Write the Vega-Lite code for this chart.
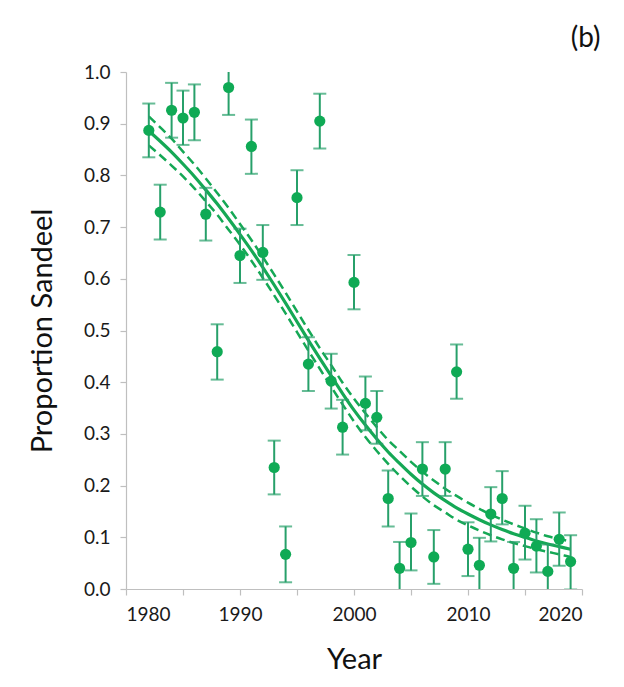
{
  "$schema": "https://vega.github.io/schema/vega-lite/v6.json",
  "autosize": "none",
  "width": 456,
  "height": 517,
  "padding": {"left": 126, "top": 72, "right": 42, "bottom": 98},
  "background": "white",
  "config": {
    "view": {"stroke": null},
    "font": "Lato",
    "axis": {
      "domainColor": "#BFBFBF",
      "tickColor": "#BFBFBF",
      "domainWidth": 1.2,
      "tickWidth": 1.2,
      "tickSize": 6,
      "grid": false,
      "labelFont": "Lato",
      "labelFontSize": 19,
      "labelColor": "#1a1a1a",
      "titleFont": "Lato",
      "titleFontSize": 29,
      "titleFontWeight": "normal",
      "titleColor": "#111111"
    }
  },
  "title": {
    "text": "(b)",
    "anchor": "end",
    "orient": "top",
    "fontSize": 28,
    "fontWeight": "normal",
    "font": "Lato",
    "color": "#111111",
    "dx": 18,
    "offset": 10
  },
  "datasets": {
    "obs": [
      {"year": 1982, "p": 0.887, "lo": 0.835, "hi": 0.939},
      {"year": 1983, "p": 0.729, "lo": 0.676, "hi": 0.782},
      {"year": 1984, "p": 0.926, "lo": 0.873, "hi": 0.979},
      {"year": 1985, "p": 0.911, "lo": 0.859, "hi": 0.964},
      {"year": 1986, "p": 0.922, "lo": 0.868, "hi": 0.976},
      {"year": 1987, "p": 0.725, "lo": 0.674, "hi": 0.776},
      {"year": 1988, "p": 0.459, "lo": 0.405, "hi": 0.512},
      {"year": 1989, "p": 0.970, "lo": 0.917, "hi": 1.022},
      {"year": 1990, "p": 0.645, "lo": 0.592, "hi": 0.697},
      {"year": 1991, "p": 0.856, "lo": 0.803, "hi": 0.908},
      {"year": 1992, "p": 0.651, "lo": 0.598, "hi": 0.704},
      {"year": 1993, "p": 0.235, "lo": 0.183, "hi": 0.287},
      {"year": 1994, "p": 0.067, "lo": 0.013, "hi": 0.121},
      {"year": 1995, "p": 0.757, "lo": 0.704, "hi": 0.810},
      {"year": 1996, "p": 0.435, "lo": 0.383, "hi": 0.487},
      {"year": 1997, "p": 0.905, "lo": 0.852, "hi": 0.958},
      {"year": 1998, "p": 0.402, "lo": 0.349, "hi": 0.455},
      {"year": 1999, "p": 0.313, "lo": 0.260, "hi": 0.366},
      {"year": 2000, "p": 0.593, "lo": 0.541, "hi": 0.646},
      {"year": 2001, "p": 0.359, "lo": 0.307, "hi": 0.411},
      {"year": 2002, "p": 0.332, "lo": 0.281, "hi": 0.383},
      {"year": 2003, "p": 0.175, "lo": 0.121, "hi": 0.229},
      {"year": 2004, "p": 0.040, "lo": -0.012, "hi": 0.091},
      {"year": 2005, "p": 0.090, "lo": 0.036, "hi": 0.146},
      {"year": 2006, "p": 0.232, "lo": 0.180, "hi": 0.284},
      {"year": 2007, "p": 0.062, "lo": 0.010, "hi": 0.114},
      {"year": 2008, "p": 0.232, "lo": 0.180, "hi": 0.284},
      {"year": 2009, "p": 0.420, "lo": 0.368, "hi": 0.473},
      {"year": 2010, "p": 0.077, "lo": 0.025, "hi": 0.129},
      {"year": 2011, "p": 0.046, "lo": -0.006, "hi": 0.099},
      {"year": 2012, "p": 0.145, "lo": 0.092, "hi": 0.197},
      {"year": 2013, "p": 0.175, "lo": 0.125, "hi": 0.228},
      {"year": 2014, "p": 0.040, "lo": -0.012, "hi": 0.091},
      {"year": 2015, "p": 0.108, "lo": 0.057, "hi": 0.161},
      {"year": 2016, "p": 0.083, "lo": 0.032, "hi": 0.135},
      {"year": 2017, "p": 0.034, "lo": -0.018, "hi": 0.086},
      {"year": 2018, "p": 0.096, "lo": 0.045, "hi": 0.148},
      {"year": 2019, "p": 0.053, "lo": -0.001, "hi": 0.104}
    ],
    "fit": [
      {"year": 1982, "fit": 0.886, "lower": 0.858, "upper": 0.914},
      {"year": 1983, "fit": 0.866, "lower": 0.839, "upper": 0.893},
      {"year": 1984, "fit": 0.845, "lower": 0.819, "upper": 0.871},
      {"year": 1985, "fit": 0.822, "lower": 0.798, "upper": 0.846},
      {"year": 1986, "fit": 0.798, "lower": 0.775, "upper": 0.821},
      {"year": 1987, "fit": 0.772, "lower": 0.750, "upper": 0.794},
      {"year": 1988, "fit": 0.745, "lower": 0.724, "upper": 0.766},
      {"year": 1989, "fit": 0.716, "lower": 0.695, "upper": 0.737},
      {"year": 1990, "fit": 0.686, "lower": 0.666, "upper": 0.706},
      {"year": 1991, "fit": 0.655, "lower": 0.635, "upper": 0.675},
      {"year": 1992, "fit": 0.622, "lower": 0.602, "upper": 0.642},
      {"year": 1993, "fit": 0.588, "lower": 0.568, "upper": 0.608},
      {"year": 1994, "fit": 0.553, "lower": 0.533, "upper": 0.573},
      {"year": 1995, "fit": 0.517, "lower": 0.497, "upper": 0.537},
      {"year": 1996, "fit": 0.481, "lower": 0.461, "upper": 0.501},
      {"year": 1997, "fit": 0.446, "lower": 0.426, "upper": 0.466},
      {"year": 1998, "fit": 0.412, "lower": 0.391, "upper": 0.433},
      {"year": 1999, "fit": 0.378, "lower": 0.357, "upper": 0.399},
      {"year": 2000, "fit": 0.346, "lower": 0.324, "upper": 0.368},
      {"year": 2001, "fit": 0.317, "lower": 0.294, "upper": 0.340},
      {"year": 2002, "fit": 0.290, "lower": 0.267, "upper": 0.313},
      {"year": 2003, "fit": 0.265, "lower": 0.242, "upper": 0.288},
      {"year": 2004, "fit": 0.243, "lower": 0.219, "upper": 0.267},
      {"year": 2005, "fit": 0.222, "lower": 0.198, "upper": 0.246},
      {"year": 2006, "fit": 0.203, "lower": 0.179, "upper": 0.227},
      {"year": 2007, "fit": 0.186, "lower": 0.162, "upper": 0.210},
      {"year": 2008, "fit": 0.171, "lower": 0.148, "upper": 0.194},
      {"year": 2009, "fit": 0.157, "lower": 0.134, "upper": 0.180},
      {"year": 2010, "fit": 0.145, "lower": 0.123, "upper": 0.167},
      {"year": 2011, "fit": 0.134, "lower": 0.113, "upper": 0.155},
      {"year": 2012, "fit": 0.124, "lower": 0.104, "upper": 0.144},
      {"year": 2013, "fit": 0.115, "lower": 0.096, "upper": 0.134},
      {"year": 2014, "fit": 0.107, "lower": 0.089, "upper": 0.125},
      {"year": 2015, "fit": 0.100, "lower": 0.083, "upper": 0.117},
      {"year": 2016, "fit": 0.093, "lower": 0.077, "upper": 0.109},
      {"year": 2017, "fit": 0.087, "lower": 0.072, "upper": 0.102},
      {"year": 2018, "fit": 0.082, "lower": 0.067, "upper": 0.097},
      {"year": 2019, "fit": 0.077, "lower": 0.062, "upper": 0.092}
    ]
  },
  "encoding": {
    "x": {
      "field": "year",
      "type": "quantitative",
      "scale": {"domain": [1980, 2020], "nice": false, "zero": false},
      "axis": {
        "title": "Year",
        "values": [1980, 1985, 1990, 1995, 2000, 2005, 2010, 2015, 2020],
        "labelExpr": "datum.value % 10 == 0 ? datum.label : ''",
        "format": "d",
        "labelPadding": 10,
        "titlePadding": 21
      }
    }
  },
  "layer": [
    {
      "data": {"name": "fit"},
      "mark": {"type": "line", "color": "#15A855", "strokeWidth": 2.5, "strokeDash": [9, 5], "interpolate": "monotone"},
      "encoding": {
        "y": {"field": "upper", "type": "quantitative"}
      }
    },
    {
      "data": {"name": "fit"},
      "mark": {"type": "line", "color": "#15A855", "strokeWidth": 2.5, "strokeDash": [9, 5], "interpolate": "monotone"},
      "encoding": {
        "y": {"field": "lower", "type": "quantitative"}
      }
    },
    {
      "data": {"name": "fit"},
      "mark": {"type": "line", "color": "#15A855", "strokeWidth": 3.2, "interpolate": "monotone"},
      "encoding": {
        "y": {"field": "fit", "type": "quantitative"}
      }
    },
    {
      "data": {"name": "obs"},
      "mark": {"type": "rule", "color": "#27A06A", "strokeWidth": 2, "clip": true},
      "encoding": {
        "y": {"field": "lo", "type": "quantitative"},
        "y2": {"field": "hi"}
      }
    },
    {
      "data": {"name": "obs"},
      "mark": {"type": "tick", "orient": "horizontal", "color": "#27A06A", "size": 13, "thickness": 2, "clip": true},
      "encoding": {
        "y": {"field": "lo", "type": "quantitative"}
      }
    },
    {
      "data": {"name": "obs"},
      "mark": {"type": "tick", "orient": "horizontal", "color": "#27A06A", "size": 13, "thickness": 2, "clip": true},
      "encoding": {
        "y": {"field": "hi", "type": "quantitative"}
      }
    },
    {
      "data": {"name": "obs"},
      "mark": {"type": "circle", "color": "#0FAA55", "opacity": 1, "size": 125},
      "encoding": {
        "y": {
          "field": "p",
          "type": "quantitative",
          "scale": {"domain": [0, 1], "nice": false},
          "axis": {
            "title": "Proportion Sandeel",
            "values": [0, 0.1, 0.2, 0.3, 0.4, 0.5, 0.6, 0.7, 0.8, 0.9, 1.0],
            "format": ".1f",
            "labelPadding": 10,
            "titlePadding": 26
          }
        }
      }
    }
  ],
  "resolve": {"scale": {"y": "shared"}}
}
